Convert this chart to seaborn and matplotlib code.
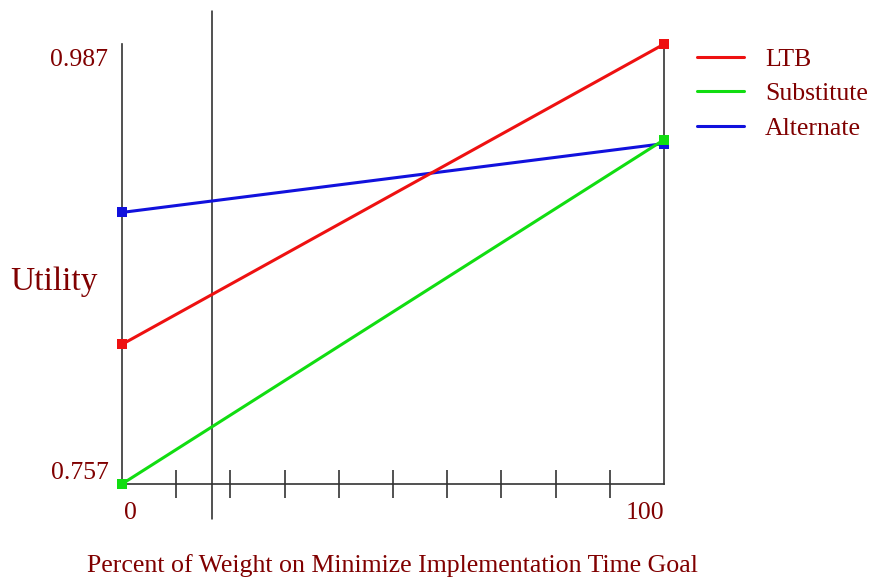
import pandas as pd
import seaborn as sns
import matplotlib.pyplot as plt
from matplotlib.lines import Line2D

# Data
weights = [0, 100]
ltb = [0.830, 0.987]
substitute = [0.757, 0.937]
alternate = [0.899, 0.935]
series = ["LTB", "Substitute", "Alternate"]
colors = ["#ee1111", "#11dd11", "#1111dd"]
current_weight = 16.6
xticks = [10, 20, 30, 40, 50, 60, 70, 80, 90]

df = pd.DataFrame({
    "Weight": weights * 3,
    "Utility": ltb + substitute + alternate,
    "Option": ["LTB"] * 2 + ["Substitute"] * 2 + ["Alternate"] * 2,
})

sns.set_style("white")
plt.rcParams["font.family"] = ["Liberation Serif", "DejaVu Serif"]
text_color = "#800000"

fig = plt.figure(figsize=(8.7, 5.81), dpi=100)
ax = fig.add_axes([0.1402, 0.167, 0.623, 0.757])

pal = dict(zip(series, colors))
# draw alternate first so the green end point sits on top, like the reference
sns.lineplot(data=df, x="Weight", y="Utility", hue="Option", palette=pal,
             hue_order=["Alternate", "LTB", "Substitute"],
             marker="s", markersize=6.5, markeredgewidth=0, linewidth=2.2,
             legend=False, ax=ax, clip_on=False, zorder=3)

ax.set_xlim(0, 100)
ax.set_ylim(0.757, 0.987)

for side in ["left", "right", "bottom"]:
    ax.spines[side].set_color("#333333")
    ax.spines[side].set_linewidth(1.2)
ax.spines["top"].set_visible(False)

ax.set_xticks(xticks)
ax.set_xticklabels([])
ax.tick_params(axis="x", direction="inout", length=20, width=1.1, color="#222222", bottom=True)
ax.set_yticks([])
ax.set_xlabel("")
ax.set_ylabel("")

# current weight marker line
ax.axvline(current_weight, ymin=-0.08, ymax=1.075, color="#222222", linewidth=1.1, clip_on=False)

# axis labels
ax.text(-0.025, 0.964, "0.987", transform=ax.transAxes, ha="right", va="center", fontsize=18.5, color=text_color)
ax.text(-0.025, 0.024, "0.757", transform=ax.transAxes, ha="right", va="center", fontsize=18.5, color=text_color)
ax.text(0.003, -0.065, "0", transform=ax.transAxes, ha="left", va="center", fontsize=18.5, color=text_color)
ax.text(1.0, -0.065, "100", transform=ax.transAxes, ha="right", va="center", fontsize=18.5, color=text_color)
ax.text(-0.206, 0.46, "Utility", transform=ax.transAxes, ha="left", va="center", fontsize=24, color=text_color)
fig.text(0.451, 0.027, "Percent of Weight on Minimize Implementation Time Goal",
         ha="center", va="center", fontsize=18.6, color=text_color)

handles = [Line2D([0], [0], color=c, linewidth=2.2) for c in colors]
leg = fig.legend(handles, series, loc="upper left", bbox_to_anchor=(0.801, 0.918),
                 frameon=False, fontsize=18.5, handlelength=1.85, handletextpad=0.8,
                 labelspacing=0.45, borderpad=0, borderaxespad=0)
for t in leg.get_texts():
    t.set_color(text_color)

fig.savefig("out.png", dpi=100)
